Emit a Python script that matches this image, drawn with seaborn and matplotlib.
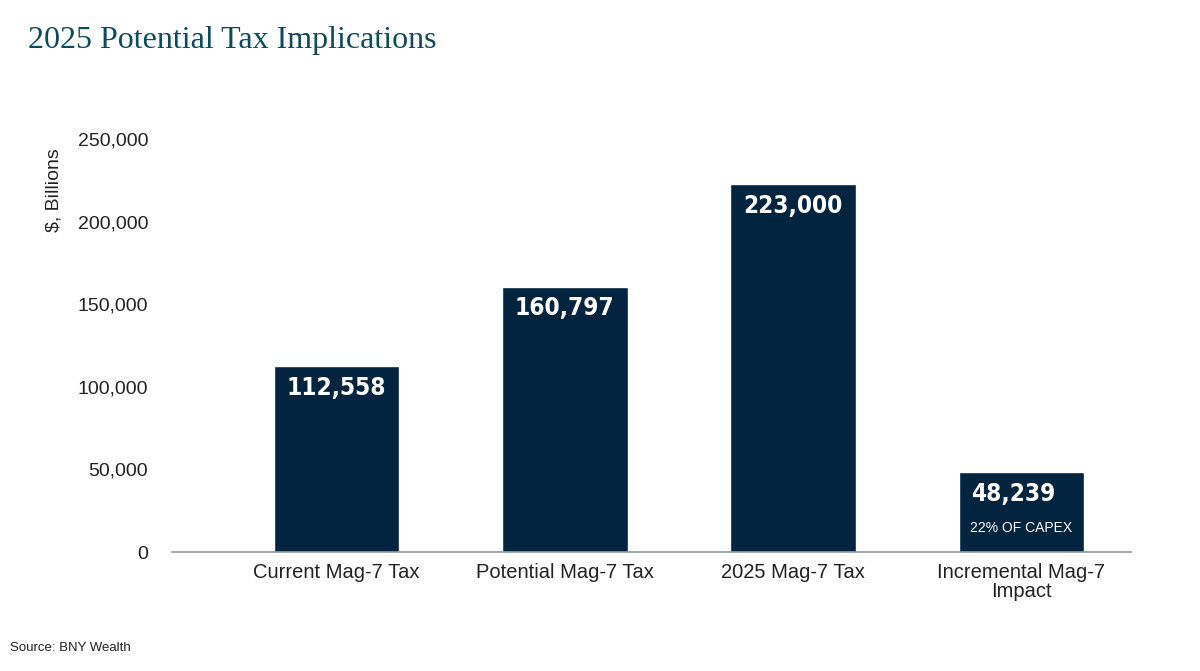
import pandas as pd
import seaborn as sns
import matplotlib.pyplot as plt
from matplotlib import font_manager
from matplotlib.font_manager import FontProperties

# Datos del grafico
categorias = ['Current Mag-7 Tax', 'Potential Mag-7 Tax', '2025 Mag-7 Tax',
              'Incremental Mag-7\nImpact']
valores = [112558, 160797, 223000, 48239]
etiquetas = ['112,558', '160,797', '223,000', '48,239']
nota_extra = ['', '', '', '22% OF CAPEX']
ticks_y = [0, 50000, 100000, 150000, 200000, 250000]

df = pd.DataFrame({'categoria': categorias, 'valor': valores})

sns.set_theme(style='white')
plt.rcParams['font.family'] = ['Liberation Sans', 'DejaVu Sans']

# fuente estrecha para los numeros si existe
fp_cond = FontProperties(family='DejaVu Sans', stretch='condensed', weight='bold')
ruta = font_manager.findfont(fp_cond)
if 'Condensed' in ruta:
    fp_num = dict(family='DejaVu Sans', fontstretch='condensed', fontsize=17.5)
else:
    fp_num = dict(family='Liberation Sans', fontsize=17)

azul = '#03243f'
fig = plt.figure(figsize=(12, 6.71), dpi=100)
ax = fig.add_axes([0.1433, 0.1773, 0.7992, 0.6274])

sns.barplot(data=df, x='categoria', y='valor', color=azul, width=0.55,
            saturation=1, ax=ax)

ax.set_ylim(0, 255000)
ax.set_xlim(-0.72, 3.48)
ax.set_yticks(ticks_y)
ax.set_yticklabels([f'{t:,}' for t in ticks_y], fontsize=14, color='#222222')
ax.tick_params(axis='y', length=0, pad=17)
ax.tick_params(axis='x', length=0, pad=8, labelsize=14.5, labelcolor='#222222')
for lbl in ax.get_xticklabels():
    lbl.set_linespacing(1.0)
ax.set_xlabel('')
ax.set_ylabel('$, Billions', fontsize=14, color='#222222')
ax.yaxis.set_label_coords(-0.114, 0.86)

for lado in ['top', 'right', 'left']:
    ax.spines[lado].set_visible(False)
ax.spines['bottom'].set_color('#8a99a6')
ax.spines['bottom'].set_linewidth(1.2)

# Etiquetas dentro de las barras
for barra, txt, extra in zip(ax.patches, etiquetas, nota_extra):
    x0 = barra.get_x()
    alto = barra.get_height()
    ax.annotate(txt, (x0, alto), xytext=(9, -7), textcoords='offset points',
                ha='left', va='top', color='white', fontweight='bold', **fp_num)
    if extra:
        ax.annotate(extra, (x0, alto), xytext=(8, -35), textcoords='offset points',
                    ha='left', va='top', color='white', fontsize=10)

fig.text(0.023, 0.94, '2025 Potential Tax Implications', fontsize=23,
         color='#0f4a5a', family=['Liberation Serif', 'DejaVu Serif'], va='center')
fig.text(0.008, 0.034, 'Source: BNY Wealth', fontsize=9.5, color='#222222',
         va='center')

plt.savefig('out.png', dpi=100)
